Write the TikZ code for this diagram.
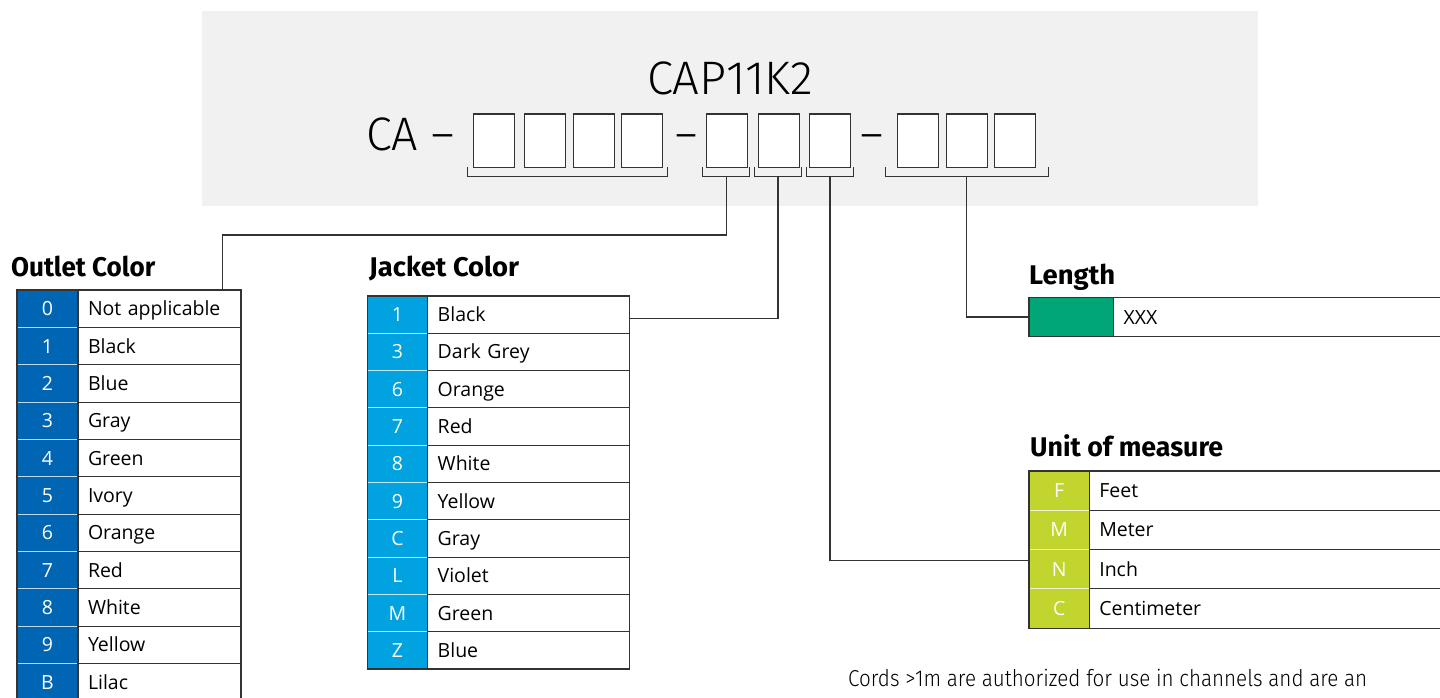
\documentclass[tikz,border=0pt]{standalone}
\usepackage{fontspec}
\usepackage{graphicx}
\setmainfont{Open Sans}
\newfontfamily\hdrfont{Fira Sans Light}
\newfontfamily\ttlfont{Fira Sans}
\usetikzlibrary{calc}
\definecolor{bggray}{HTML}{F1F1F1}
\definecolor{bord}{HTML}{333333}
\definecolor{oblue}{HTML}{0065B2}
\definecolor{jblue}{HTML}{00A3E0}
\definecolor{lgreen}{HTML}{00A676}
\definecolor{uyel}{HTML}{C2D52E}
\tikzset{
  tbl/.style={font=\fontsize{19.5}{22}\selectfont, anchor=north west, inner sep=0pt, outer sep=0pt, text height=14pt, text depth=0pt},
  codecell/.style={tbl, text=white, align=center},
  txtcell/.style={tbl, draw=bord, line width=1.1pt, fill=white, align=left, inner xsep=10pt},
  ocode/.style={codecell, fill=oblue, minimum width=61pt, minimum height=37.35pt},
  otext/.style={txtcell, text width=143pt, minimum height=37.35pt},
  jcode/.style={codecell, fill=jblue, minimum width=60.4pt, minimum height=37.3pt},
  jtext/.style={txtcell, text width=181.6pt, minimum height=37.3pt},
  lcode/.style={codecell, fill=lgreen, minimum width=84.7pt, minimum height=39.4pt},
  ltext/.style={txtcell, text width=326pt, minimum height=39.4pt},
  ucode/.style={codecell, fill=uyel, minimum width=60.3pt, minimum height=39.3pt},
  utext/.style={txtcell, text width=350pt, minimum height=39.3pt},
  sepline/.style={draw=white!75!#1, line width=1.1pt},
  frame/.style={draw=bord, line width=1.3pt},
  hbox/.style={draw=bord, line width=1.3pt, fill=white, minimum width=41pt, minimum height=53pt, anchor=north west, inner sep=0pt},
  brk/.style={draw=bord, line width=1pt},
  conn/.style={draw=bord, line width=1.2pt},
  ttl/.style={anchor=base west, inner sep=0pt},
}
\newcommand{\hdr}[2]{\resizebox{#1}{\height}{\hdrfont\fontsize{47}{47}\selectfont #2}}
\newcommand{\ttltext}[2]{\resizebox{#1}{\height}{\ttlfont\bfseries\fontsize{27}{27}\selectfont #2}}
\begin{document}
\begin{tikzpicture}[x=1pt,y=-1pt]
\useasboundingbox (0,0) rectangle (1440,698);
% header background
\fill[bggray] (202,11) rectangle (1258,206);
\node[anchor=base, inner sep=0pt] (title) at (730,95) {\hdr{166pt}{CAP11K2}};
\node[ttl] (ca) at (366,151) {\hdr{52pt}{CA}};
\node[ttl] (d1) at (431,151) {\hdr{23pt}{–}};
\node[ttl] (d2) at (675.5,151) {\hdr{22pt}{–}};
\node[ttl] (d3) at (860,151) {\hdr{23pt}{–}};
% boxes
\foreach \x [count=\i] in {473,523.5,573,621,706,758,809,896.5,945.5,994}
  \node[hbox] (b\i) at (\x,113.5) {};
% brackets
\draw[brk] (467.6,167) |- (667.8,176) -- (667.8,167);
\draw[brk] (702.7,167) |- (749.5,176) -- (749.5,167);
\draw[brk] (754.6,167) |- (801.4,176) -- (801.4,167);
\draw[brk] (806.5,167) |- (853.3,176) -- (853.3,167);
\draw[brk] (885.5,167) |- (1048,176) -- (1048,167);
\coordinate (br2) at (726.1,176);
\coordinate (br3) at (778,176);
\coordinate (br4) at (830,176);
\coordinate (br5) at (966.7,176);
% ---------- Outlet Color
\node[ttl] (ttl-o) at (11,276) {\ttltext{144pt}{Outlet Color}};
\foreach \c/\t [count=\i from 0] in {0/Not applicable,1/Black,2/Blue,3/Gray,4/Green,5/Ivory,6/Orange,7/Red,8/White,9/Yellow,B/Lilac} {
  \node[ocode] (oc-\i) at (17,290+37.35*\i) {\c};
  \node[otext] (ot-\i) at (oc-\i.north east) {\t};
}
\foreach \i in {0,...,9} \draw[sepline=oblue] (oc-\i.south west) -- (oc-\i.south east);
\draw[frame] (oc-0.north west) rectangle (ot-10.south east);
\draw[frame] (oc-0.north east) -- (oc-10.south east);
% ---------- Jacket Color
\node[ttl] (ttl-j) at (369,276) {\ttltext{150pt}{Jacket Color}};
\foreach \c/\t [count=\i from 0] in {1/Black,3/Dark Grey,6/Orange,7/Red,8/White,9/Yellow,C/Gray,L/Violet,M/Green,Z/Blue} {
  \node[jcode] (jc-\i) at (367.3,296+37.3*\i) {\c};
  \node[jtext] (jt-\i) at (jc-\i.north east) {\t};
}
\foreach \i in {0,...,8} \draw[sepline=jblue] (jc-\i.south west) -- (jc-\i.south east);
\draw[frame] (jc-0.north west) rectangle (jt-9.south east);
\draw[frame] (jc-0.north east) -- (jc-9.south east);
% ---------- Length
\node[ttl] (ttl-l) at (1029,284) {\ttltext{86pt}{Length}};
\node[lcode] (lc-0) at (1029,297.3) {};
\node[ltext] (lt-0) at (lc-0.north east) {XXX};
\draw[frame] (lc-0.north west) rectangle (lt-0.south east);
% ---------- Unit of measure
\node[ttl] (ttl-u) at (1030,456.7) {\ttltext{193pt}{Unit of measure}};
\foreach \c/\t [count=\i from 0] in {F/Feet,M/Meter,N/Inch,C/Centimeter} {
  \node[ucode] (uc-\i) at (1029,471+39.3*\i) {\c};
  \node[utext] (ut-\i) at (uc-\i.north east) {\t};
}
\foreach \i in {0,...,2} \draw[sepline=uyel] (uc-\i.south west) -- (uc-\i.south east);
\draw[frame] (uc-0.north west) rectangle (ut-3.south east);
\draw[frame] (uc-0.north east) -- (uc-3.south east);
% ---------- connectors
\coordinate (k1) at (222.7,235);
\draw[conn] (br2) |- (k1) -- (k1 |- ot-0.north);
\draw[conn] (br3) |- ([yshift=-3.5pt]jt-0.east);
\draw[conn] (br4) |- ([yshift=8.5pt]uc-2.west);
\draw[conn] (br5) |- (lc-0.west);
% ---------- note
\node[ttl] (note) at (848,686.5) {\resizebox{519pt}{\height}{\hdrfont\fontsize{23}{23}\selectfont Cords >1m are authorized for use in channels and are an}};
\end{tikzpicture}
\end{document}
